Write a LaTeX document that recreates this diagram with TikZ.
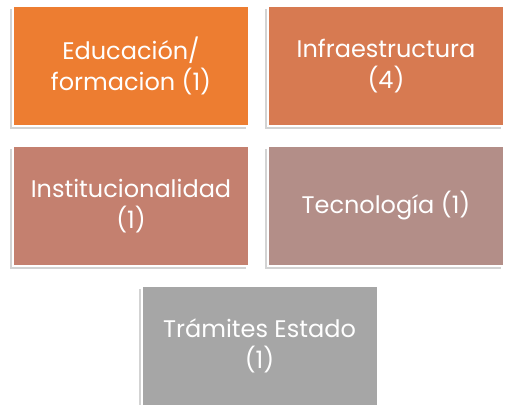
\documentclass[tikz,border=0pt]{standalone}
\usepackage{fontspec}
\setmainfont{Poppins}
\usepackage{xcolor}
\usepackage{tikz}
\usetikzlibrary{shadows}

\definecolor{cEdu}{HTML}{ED7D31}
\definecolor{cInfra}{HTML}{D77A51}
\definecolor{cInst}{HTML}{C4806F}
\definecolor{cTec}{HTML}{B38E88}
\definecolor{cTram}{HTML}{A6A6A6}

\begin{document}
\begin{tikzpicture}[x=1pt,y=1pt]
			\tikzstyle{area}=[draw=white, line width=2pt, minimum width=236pt, minimum height=120pt,
				text=white, align=center, font=\fontsize{24}{31}\selectfont,
				drop shadow={shadow xshift=-3pt, shadow yshift=-3pt, opacity=0.35, fill=black!50}]
			\useasboundingbox (0,0) rectangle (505,404);
			
			% first row
			\node[area, fill=cEdu](edu)     at (131,338) {Educación/\\formacion (1)};
			\node[area, fill=cInfra](infra) at (386,338) {Infraestructura\\(4)};
			
			% second row
			\node[area, fill=cInst](inst)   at (131,198) {Institucionalidad\\(1)};
			\node[area, fill=cTec](tec)     at (386,198) {Tecnología (1)};
			
			% last row
			\node[area, fill=cTram](tram)   at (259.5,58) {Trámites Estado\\(1)};
\end{tikzpicture}
\end{document}
